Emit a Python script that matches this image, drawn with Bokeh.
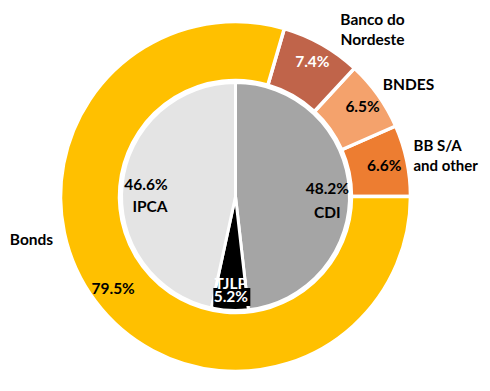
import numpy as np
from bokeh.plotting import figure
from bokeh.models import Range1d
from bokeh.embed import file_html
from bokeh.resources import INLINE
from bokeh.core.properties import value

# ---- data ----
outer_names = ["BB S/A\nand other", "BNDES", "Banco do\nNordeste", "Bonds"]
outer_values = [6.6, 6.5, 7.4, 79.5]
inner_names = ["CDI", "TJLP", "IPCA"]
inner_values = [48.2, 5.2, 46.6]

# ---- styles / layout ----
outer_colors = ["#ED7D31", "#F4A26C", "#C0644A", "#FFC000"]
outer_pct_colors = ["black", "black", "white", "black"]
inner_colors = ["#A5A5A5", "#000000", "#E4E4E4"]
inner_text_colors = ["black", "white", "black"]
FONT = value("Lato")
FS = "15.5px"

W, H = 482, 383
OX, OY = 0, 0                # page offset of the figure
cx, cy = 235, 391 - 196      # centre (data coords; y up, image-pixel based)
R_OUT, R_RING_IN, R_PIE = 175, 116, 114

p = figure(width=W, height=H, output_backend="svg", toolbar_location=None,
           x_range=Range1d(OX, OX + W), y_range=Range1d(391 - OY - H, 391 - OY),
           min_border=0)
p.axis.visible = False
p.grid.visible = False
p.outline_line_color = None
p.background_fill_color = "white"
p.border_fill_color = "white"

# outer ring: counter-clockwise from 3 o'clock
ov = np.array(outer_values)
ocum = np.concatenate([[0], np.cumsum(ov)]) / ov.sum() * 2 * np.pi
o_start, o_end = ocum[:-1], ocum[1:]
p.annular_wedge(x=cx, y=cy, inner_radius=R_RING_IN, outer_radius=R_OUT,
                start_angle=o_start, end_angle=o_end, direction="anticlock",
                fill_color=outer_colors, line_color="white", line_width=3.5)

# inner pie: clockwise from 12 o'clock
iv = np.array(inner_values)
icum = np.concatenate([[0], np.cumsum(iv)]) / iv.sum() * 2 * np.pi
i_start = np.pi / 2 - icum[1:]
i_end = np.pi / 2 - icum[:-1]
p.wedge(x=cx, y=cy, radius=R_PIE, start_angle=i_start, end_angle=i_end,
        direction="anticlock", fill_color=inner_colors,
        line_color="white", line_width=3)

# outer percentage labels at mid-angle
o_mid = (o_start + o_end) / 2
pct_r = [152, 156, 156, 153]
for i, v in enumerate(outer_values):
    x = cx + pct_r[i] * np.cos(o_mid[i])
    y = cy + pct_r[i] * np.sin(o_mid[i])
    p.text(x=[x], y=[y], text=[f"{v:.1f}%"], text_font=FONT,
           text_font_style="bold", text_font_size=FS,
           text_color=outer_pct_colors[i], text_align="center",
           text_baseline="middle")

# outer name labels (outside)
name_pos = [(413 - 235, 196 - 154, "left", "15px"),
            (408 - 235, 196 - 83, "center", FS),
            (372 - 235, 196 - 28, "center", FS),
            (31 - 235, 196 - 238, "center", FS)]
for i, nm in enumerate(outer_names):
    dx, dy, al, fs = name_pos[i]
    lines = nm.split("\n")
    n = len(lines)
    for k, ln in enumerate(lines):
        yy = cy + dy + (n - 1) * 10 - k * 20
        p.text(x=[cx + dx], y=[yy], text=[ln], text_font=FONT,
               text_font_style="bold", text_font_size=fs,
               text_color="black", text_align=al, text_baseline="middle")

# inner labels
i_mid = (i_start + i_end) / 2
in_r = [92, 93, 90]
in_dy = [-9, 0, -8]       # vertical shift of the two-line block
in_gap = [24, 13, 22]
for i, nm in enumerate(inner_names):
    x = cx + in_r[i] * np.cos(i_mid[i])
    y = cy + in_r[i] * np.sin(i_mid[i]) + in_dy[i]
    g = in_gap[i]
    if nm == "TJLP":
        p.rect(x=[x + 1], y=[y - g / 2 - 1], width=37, height=18,
               fill_color="black", line_color=None)
        top, bot = nm, f"{inner_values[i]:.1f}%"
    else:
        top, bot = f"{inner_values[i]:.1f}%", nm
    p.text(x=[x], y=[y + g / 2], text=[top], text_font=FONT,
           text_font_style="bold", text_font_size=FS,
           text_color=inner_text_colors[i], text_align="center",
           text_baseline="middle")
    p.text(x=[x + (4 if nm == "IPCA" else 0)], y=[y - g / 2], text=[bot],
           text_font=FONT, text_font_style="bold", text_font_size=FS,
           text_color=inner_text_colors[i], text_align="center",
           text_baseline="middle")

open("out.html", "w").write(file_html(p, INLINE))
